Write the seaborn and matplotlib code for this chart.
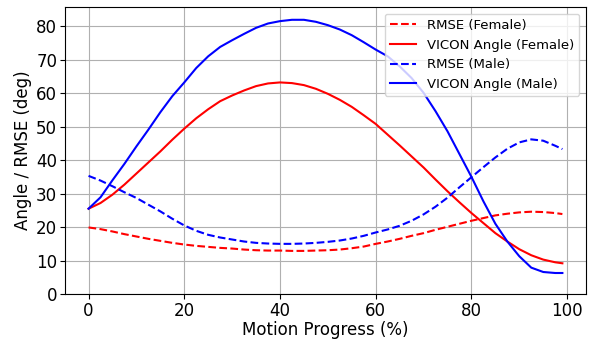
import pandas as pd
import matplotlib
matplotlib.use("Agg")
import matplotlib.pyplot as plt
import seaborn as sns

# --- DATA ---
progress = [0, 2.5, 5, 7.5, 10, 12.5, 15, 17.5, 20, 22.5, 25, 27.5, 30, 32.5, 35, 37.5,
            40, 42.5, 45, 47.5, 50, 52.5, 55, 57.5, 60, 62.5, 65, 67.5, 70, 72.5, 75, 77.5,
            80, 82.5, 85, 87.5, 90, 92.5, 95, 97.5, 99]

rmse_female = [19.9, 19.4, 18.7, 17.9, 17.2, 16.5, 15.9, 15.3, 14.8, 14.4, 14.1, 13.8,
               13.6, 13.3, 13.1, 13.0, 13.0, 12.9, 12.9, 13.0, 13.1, 13.3, 13.7, 14.2,
               15.0, 15.7, 16.5, 17.4, 18.2, 19.2, 20.1, 21.0, 21.9, 22.7, 23.5, 24.0,
               24.4, 24.6, 24.5, 24.2, 23.9]
vicon_female = [25.5, 27.2, 29.7, 32.7, 36.0, 39.3, 42.6, 46.1, 49.4, 52.5, 55.2, 57.6,
                59.3, 60.8, 62.1, 62.9, 63.2, 63.0, 62.4, 61.3, 59.8, 58.0, 55.9, 53.4,
                50.8, 47.6, 44.4, 41.1, 37.8, 34.2, 30.7, 27.4, 24.2, 21.2, 18.2, 15.7,
                13.4, 11.6, 10.3, 9.5, 9.2]
rmse_male = [35.3, 33.9, 32.2, 30.4, 28.7, 26.7, 24.7, 22.5, 20.5, 18.9, 17.7, 16.9,
             16.3, 15.7, 15.3, 15.1, 15.0, 15.0, 15.1, 15.3, 15.6, 16.0, 16.6, 17.4,
             18.4, 19.3, 20.4, 21.9, 23.8, 26.1, 28.8, 31.9, 34.9, 37.9, 40.8, 43.4,
             45.3, 46.2, 45.8, 44.3, 43.3]
vicon_male = [25.5, 28.9, 34.0, 38.9, 44.1, 49.1, 54.3, 59.1, 63.2, 67.5, 71.0, 73.8,
              75.8, 77.7, 79.5, 80.8, 81.5, 81.9, 81.9, 81.3, 80.3, 79.0, 77.3, 75.2,
              73.0, 71.0, 68.0, 64.5, 60.1, 54.6, 48.6, 41.8, 35.0, 27.7, 21.0, 15.7,
              11.3, 7.9, 6.6, 6.3, 6.3]

OUTPUT_FILE = "out.png"


def generate_graph():
    df = pd.DataFrame({
        "progress": progress,
        "rmse_f": rmse_female,
        "vicon_f": vicon_female,
        "rmse_m": rmse_male,
        "vicon_m": vicon_male,
    })

    fig, ax = plt.subplots(figsize=(5.95, 3.4), dpi=100)
    fig.subplots_adjust(left=0.109, right=0.985, top=0.979, bottom=0.135)

    sns.lineplot(data=df, x="progress", y="rmse_f", ax=ax, color="red",
                 linestyle="--", linewidth=1.5, label="RMSE (Female)")
    sns.lineplot(data=df, x="progress", y="vicon_f", ax=ax, color="red",
                 linewidth=1.5, label="VICON Angle (Female)")
    sns.lineplot(data=df, x="progress", y="rmse_m", ax=ax, color="blue",
                 linestyle="--", linewidth=1.5, label="RMSE (Male)")
    sns.lineplot(data=df, x="progress", y="vicon_m", ax=ax, color="blue",
                 linewidth=1.5, label="VICON Angle (Male)")

    ax.set_ylim(bottom=0)
    ax.set_yticks(range(0, 81, 10))
    ax.set_xlabel("Motion Progress (%)", fontsize=12, labelpad=1)
    ax.set_ylabel("Angle / RMSE (deg)", fontsize=12, labelpad=3)
    ax.tick_params(labelsize=12, pad=2)
    ax.grid(True)
    ax.legend(loc="upper right", fontsize=9.5)

    plt.savefig(OUTPUT_FILE, dpi=100)


if __name__ == "__main__":
    generate_graph()
